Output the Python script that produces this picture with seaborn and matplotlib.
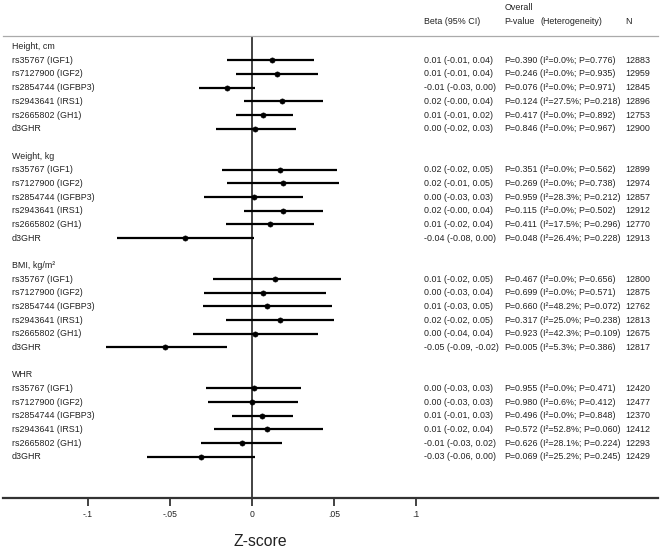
import matplotlib
matplotlib.use("Agg")
import matplotlib.pyplot as plt
import seaborn as sns
import numpy as np
import pandas as pd

groups = ["Height, cm", "Weight, kg", "BMI, kg/m²", "WHR"]
snps = ["rs35767 (IGF1)", "rs7127900 (IGF2)", "rs2854744 (IGFBP3)",
        "rs2943641 (IRS1)", "rs2665802 (GH1)", "d3GHR"]

beta = [0.012, 0.015, -0.015, 0.018, 0.007, 0.002,
        0.017, 0.019, 0.001, 0.019, 0.011, -0.041,
        0.014, 0.007, 0.009, 0.017, 0.002, -0.053,
        0.001, 0.000, 0.006, 0.009, -0.006, -0.031]
ci_lo = [-0.015, -0.010, -0.032, -0.005, -0.010, -0.022,
         -0.018, -0.015, -0.029, -0.005, -0.016, -0.082,
         -0.024, -0.029, -0.030, -0.016, -0.036, -0.089,
         -0.028, -0.027, -0.012, -0.023, -0.031, -0.064]
ci_hi = [0.038, 0.040, 0.002, 0.043, 0.025, 0.027,
         0.052, 0.053, 0.031, 0.043, 0.038, 0.001,
         0.054, 0.045, 0.049, 0.050, 0.040, -0.015,
         0.030, 0.028, 0.025, 0.043, 0.018, 0.002]

beta_txt = ["0.01 (-0.01, 0.04)", "0.01 (-0.01, 0.04)", "-0.01 (-0.03, 0.00)",
            "0.02 (-0.00, 0.04)", "0.01 (-0.01, 0.02)", "0.00 (-0.02, 0.03)",
            "0.02 (-0.02, 0.05)", "0.02 (-0.01, 0.05)", "0.00 (-0.03, 0.03)",
            "0.02 (-0.00, 0.04)", "0.01 (-0.02, 0.04)", "-0.04 (-0.08, 0.00)",
            "0.01 (-0.02, 0.05)", "0.00 (-0.03, 0.04)", "0.01 (-0.03, 0.05)",
            "0.02 (-0.02, 0.05)", "0.00 (-0.04, 0.04)", "-0.05 (-0.09, -0.02)",
            "0.00 (-0.03, 0.03)", "0.00 (-0.03, 0.03)", "0.01 (-0.01, 0.03)",
            "0.01 (-0.02, 0.04)", "-0.01 (-0.03, 0.02)", "-0.03 (-0.06, 0.00)"]
p_overall = ["0.390", "0.246", "0.076", "0.124", "0.417", "0.846",
             "0.351", "0.269", "0.959", "0.115", "0.411", "0.048",
             "0.467", "0.699", "0.660", "0.317", "0.923", "0.005",
             "0.955", "0.980", "0.496", "0.572", "0.626", "0.069"]
i2 = ["0.0", "0.0", "0.0", "27.5", "0.0", "0.0",
      "0.0", "0.0", "28.3", "0.0", "17.5", "26.4",
      "0.0", "0.0", "48.2", "25.0", "42.3", "5.3",
      "0.0", "0.6", "0.0", "52.8", "28.1", "25.2"]
p_het = ["0.776", "0.935", "0.971", "0.218", "0.892", "0.967",
         "0.562", "0.738", "0.212", "0.502", "0.296", "0.228",
         "0.656", "0.571", "0.072", "0.238", "0.109", "0.386",
         "0.471", "0.412", "0.848", "0.060", "0.224", "0.245"]
n_obs = [12883, 12959, 12845, 12896, 12753, 12900,
         12899, 12974, 12857, 12912, 12770, 12913,
         12800, 12875, 12762, 12813, 12675, 12817,
         12420, 12477, 12370, 12412, 12293, 12429]

xticks = [-0.1, -0.05, 0, 0.05, 0.1]
xtick_labels = ["-.1", "-.05", "0", ".05", ".1"]

# row layout
rows = []
for g in range(len(groups)):
    for s in range(len(snps)):
        rows.append(8 * g + 1 + s)
df = pd.DataFrame({"row": rows, "beta": beta, "lo": ci_lo, "hi": ci_hi})

sns.set_style("white")
plt.rcParams["font.family"] = ["Liberation Sans", "DejaVu Sans"]

W, H = 661, 549
fig = plt.figure(figsize=(W / 100, H / 100), dpi=100)
ax = fig.add_axes([2.7 / W, 1 - 497.7 / H, (658 - 2.7) / W, 461.7 / H])

TXT = "#222222"
FS = 6.4

ax.axvline(0, color="#222222", lw=1.2, zorder=1)
ax.hlines(df["row"], df["lo"], df["hi"], color="black", lw=1.6, zorder=2)
sns.scatterplot(data=df, x="beta", y="row", ax=ax, color="black", s=14,
                marker="o", edgecolor="black", linewidth=0.4, zorder=3,
                legend=False)

ax.set_xlim(-0.1519, 0.2474)
ax.set_ylim(33.0, -0.78)

x_lab = -0.1465
x_beta = 0.1049
x_p = 0.1537
x_het = 0.1756
x_n = 0.2275

for g, name in enumerate(groups):
    ax.text(x_lab, 8 * g, name, fontsize=FS, color=TXT, va="center", ha="left")
    for s, sn in enumerate(snps):
        k = g * len(snps) + s
        r = 8 * g + 1 + s
        ax.text(x_lab, r, sn, fontsize=FS, color=TXT, va="center", ha="left")
        ax.text(x_beta, r, beta_txt[k], fontsize=FS, color=TXT, va="center")
        ax.text(x_p, r, "P=" + p_overall[k], fontsize=FS, color=TXT, va="center")
        ax.text(x_het, r, f"(I²={i2[k]}%; P={p_het[k]})", fontsize=FS,
                color=TXT, va="center")
        ax.text(x_n, r, str(n_obs[k]), fontsize=FS, color=TXT, va="center")

hy = -1.877
ax.text(x_beta, hy, "Beta (95% CI)", fontsize=FS, color=TXT, va="center", clip_on=False)
ax.text(x_p, -2.83, "Overall", fontsize=FS, color=TXT, va="center", clip_on=False)
ax.text(x_p, hy, "P-value", fontsize=FS, color=TXT, va="center", clip_on=False)
ax.text(x_het, hy, "(Heterogeneity)", fontsize=FS, color=TXT, va="center", clip_on=False)
ax.text(x_n, hy, "N", fontsize=FS, color=TXT, va="center", clip_on=False)

ax.set_yticks([])
ax.set_ylabel("")
ax.set_xticks(xticks)
ax.set_xticklabels(xtick_labels)
ax.tick_params(axis="x", direction="out", length=6, width=1.2, color="#222222",
               labelsize=6.2, labelcolor=TXT, pad=3, bottom=True)
ax.set_xlabel("Z-score", fontsize=11.3, color=TXT)
ax.xaxis.set_label_coords(0.3926, -0.0953)
ax.xaxis.label.set_va("center")

for side in ["left", "right"]:
    ax.spines[side].set_visible(False)
ax.spines["top"].set_color("#aaaaaa")
ax.spines["top"].set_linewidth(0.9)
ax.spines["bottom"].set_color("#333333")
ax.spines["bottom"].set_linewidth(1.6)

fig.savefig("out.png", dpi=100)
